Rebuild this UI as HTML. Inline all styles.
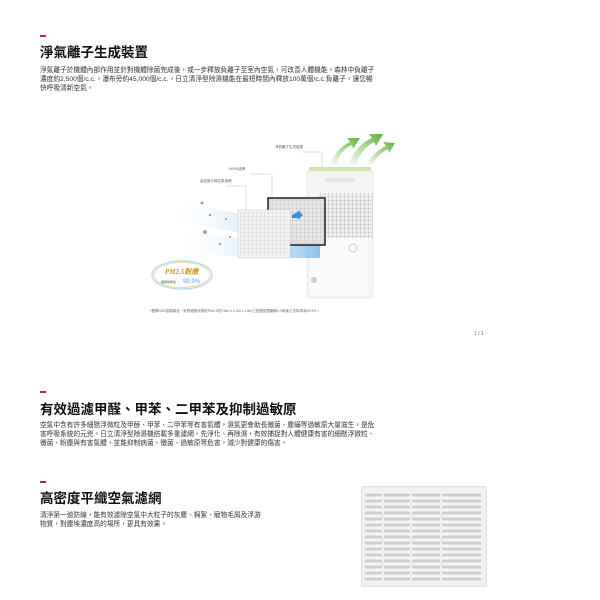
<!DOCTYPE html>
<html><head><meta charset="utf-8"><style>
body{margin:0;width:600px;height:600px;background:#fff;font-family:"Liberation Sans","Noto Sans CJK TC",sans-serif;color:#222;position:relative;overflow:hidden}
.a{position:absolute}
.dash{position:absolute;width:6px;height:2px;background:#b0284a}
h1{position:absolute;margin:0;font-size:13.5px;font-weight:bold;color:#111;white-space:nowrap}
p{position:absolute;margin:0;font-size:6.7px;line-height:9px;color:#333;white-space:nowrap}
</style></head><body>
<div class="dash" style="left:40px;top:35px"></div>
<h1 style="left:40px;top:41px">淨氣離子生成裝置</h1>
<p style="left:40px;top:66px">淨氣離子於機體內部作用並針對機體除菌完成後，或一步釋放負離子至室內空氣，可改善人體機能。森林中負離子<br>濃度約2,500個/c.c.，瀑布旁約45,000個/c.c.，日立清淨型除濕機能在最短時間內釋放100萬個/c.c.負離子，讓您暢<br>快呼吸清新空氣。</p>

<svg class="a" style="left:0;top:0" width="600" height="600">
<defs>
<linearGradient id="bl" x1="0" x2="1"><stop offset="0" stop-color="#fff" stop-opacity="0"/><stop offset="1" stop-color="#4aa0e0"/></linearGradient>
<linearGradient id="gr" x1="0" y1="1" x2="1" y2="0"><stop offset="0" stop-color="#fff"/><stop offset="1" stop-color="#5fb23a"/></linearGradient>
<pattern id="grid" width="4" height="4" patternUnits="userSpaceOnUse"><rect width="4" height="4" fill="#f0f0f0"/><path d="M0 0H4M0 0V4" stroke="#999" stroke-width="0.6"/></pattern>
</defs>
<path d="M303 152H322V170M250 174H272V198M226 186H246V210" stroke="#aaa" stroke-width="0.4" fill="none"/>
<text x="275" y="148" font-size="3.5" fill="#666">淨氣離子生成裝置</text>
<text x="229" y="170" font-size="3.5" fill="#666">HEPA濾網</text>
<text x="200" y="182" font-size="3.5" fill="#666">高密度平織空氣濾網</text>
<path d="M330 165 Q336 148 350 142 L347 138 L360 138 L353 149 L352 145 Q340 150 336 165Z" fill="url(#gr)"/>
<path d="M348 165 Q356 145 372 138 L369 134 L383 134 L376 146 L374 142 Q362 148 355 165Z" fill="url(#gr)"/>
<path d="M366 165 Q373 152 386 146 L383 142 L395 143 L389 153 L388 149 Q378 154 372 165Z" fill="url(#gr)"/>
<rect x="307" y="170" width="66" height="128" rx="3" fill="#f3f3f3" stroke="#ddd" stroke-width="0.5"/>
<rect x="309" y="167" width="62" height="4" fill="#cfe4a8"/>
<rect x="325" y="178" width="30" height="4" rx="2" fill="#e4e4e4"/>
<rect x="318" y="193" width="55" height="45" fill="url(#grid)"/>
<rect x="310" y="238" width="58" height="58" fill="#fafafa"/>
<circle cx="314" cy="280" r="3" fill="#ccc"/>
<circle cx="353" cy="248" r="4" fill="none" stroke="#999" stroke-width="0.5"/>
<path d="M170 200 Q220 210 300 225 L300 240 Q220 230 170 222Z" fill="url(#bl)" opacity="0.6"/>
<path d="M170 230 Q220 240 320 240 L320 258 Q220 258 170 250Z" fill="url(#bl)" opacity="0.6"/>
<rect x="268" y="198" width="57" height="47" fill="#d9d9d9" stroke="#222" stroke-width="1.5"/>
<rect x="271" y="201" width="51" height="41" fill="url(#grid)" opacity="0.7"/>
<path d="M292 215 l6 -3 v-2 l5 5 l-5 5 v-2 l-6 0z" fill="#3c8fd8"/>
<rect x="238" y="210" width="52" height="48" fill="#f5f5f5" stroke="#ccc" stroke-width="0.6"/>
<rect x="240" y="212" width="48" height="44" fill="url(#grid)" opacity="0.6"/>
<g fill="#8a8"><circle cx="202" cy="203" r="1.5"/><circle cx="210" cy="215" r="1.2"/><circle cx="205" cy="232" r="2"/><circle cx="220" cy="244" r="1.2"/><circle cx="226" cy="219" r="1"/><circle cx="230" cy="237" r="1"/></g>
<ellipse cx="182" cy="275" rx="30" ry="14" fill="#fff" stroke="#a9d6e8" stroke-width="1.2"/>
<ellipse cx="182" cy="275" rx="28" ry="12.5" fill="none" stroke="#e8d48c" stroke-width="0.8"/>
<text x="165" y="274" font-size="7" font-family="Liberation Serif" font-style="italic" font-weight="bold" fill="#c99a20">PM2.5對應</text>
<text x="161" y="283" font-size="3" fill="#444">濾除效率達</text>
<text x="183" y="283" font-size="6" fill="#5ab0d8">99.9%</text>
<text x="150" y="312" font-size="3.5" fill="#666">*根據SGS檢驗報告，針對細懸浮微粒PM2.5於2.8m x 1.4m x 1.8m之密閉空間運轉1小時後之去除率為99.9%。</text>
<text x="474" y="335" font-size="5" fill="#666">1 / 1</text>
</svg>

<div class="dash" style="left:40px;top:391px"></div>
<h1 style="left:40px;top:398px">有效過濾甲醛、甲苯、二甲苯及抑制過敏原</h1>
<p style="left:40px;top:421px">空氣中含有許多細懸浮微粒及甲醛、甲苯、二甲苯等有害氣體，濕氣更會助長黴菌、塵蟎等過敏原大量滋生，是危<br>害呼吸系統的元兇。日立清淨型除濕機搭載多重濾網，先淨化、再除濕，有效捕捉對人體健康有害的細懸浮微粒、<br>黴菌、粉塵與有害氣體，並能抑制病菌、黴菌、過敏原等危害，減少對健康的傷害。</p>

<div class="dash" style="left:40px;top:481px"></div>
<h1 style="left:40px;top:487px">高密度平織空氣濾網</h1>
<p style="left:40px;top:511px">清淨第一道防線，能有效濾除空氣中大粒子的灰塵、棉絮、寵物毛屑及浮游<br>物質，對塵埃濃度高的場所，更具有效果。</p>

<div class="a" style="left:361px;top:486px;width:124px;height:99px;background:#f0f0f0;border:1px solid #e0e0e0;border-radius:2px"></div>
<div class="a" style="left:365px;top:492px;width:116px;height:90px;background-image:repeating-linear-gradient(180deg,#f6f6f6 0 1.5px,#cfcfcf 1.5px 4.5px,#f6f6f6 4.5px 6px)"></div>
<div class="a" style="left:382px;top:492px;width:2px;height:90px;background:#f0f0f0"></div>
<div class="a" style="left:410px;top:492px;width:2px;height:90px;background:#f0f0f0"></div>
<div class="a" style="left:440px;top:492px;width:2px;height:90px;background:#f0f0f0"></div>
</body></html>
